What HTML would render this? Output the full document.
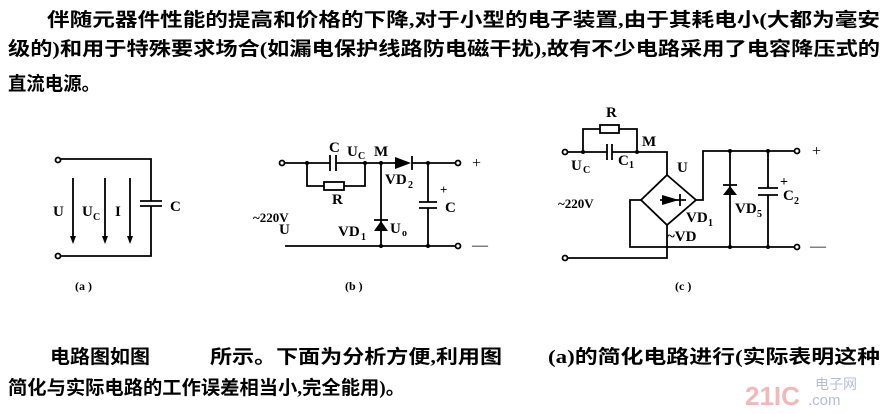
<!DOCTYPE html>
<html><head><meta charset="utf-8"><style>
html,body{margin:0;padding:0;background:#fff;}
svg{display:block;}
.cn{font-family:"Liberation Serif","Noto Sans CJK SC",sans-serif;font-weight:700;font-size:19px;fill:#000;}
.lb{font-family:"Liberation Serif",serif;font-weight:700;font-size:15px;fill:#000;}
.sm{font-family:"Liberation Serif",serif;font-weight:700;font-size:10px;fill:#000;}
</style></head><body>
<svg width="885" height="414" viewBox="0 0 885 414" xmlns="http://www.w3.org/2000/svg">
<g class="cn">
<text x="47" y="26" textLength="833" lengthAdjust="spacingAndGlyphs">伴随元器件性能的提高和价格的下降,对于小型的电子装置,由于其耗电小(大都为毫安</text>
<text x="8" y="55" textLength="872" lengthAdjust="spacingAndGlyphs">级的)和用于特殊要求场合(如漏电保护线路防电磁干扰),故有不少电路采用了电容降压式的</text>
<text x="8" y="90" textLength="92" lengthAdjust="spacingAndGlyphs">直流电源。</text>
<text x="50" y="363" textLength="100" lengthAdjust="spacingAndGlyphs">电路图如图</text>
<text x="210" y="363" textLength="292" lengthAdjust="spacingAndGlyphs">所示。下面为分析方便,利用图</text>
<text x="548" y="363" textLength="332" lengthAdjust="spacingAndGlyphs">(a)的简化电路进行(实际表明这种</text>
<text x="8" y="394" textLength="397" lengthAdjust="spacingAndGlyphs">简化与实际电路的工作误差相当小,完全能用)。</text>
</g>
<text x="745" y="405" font-family="Liberation Sans,sans-serif" font-weight="700" font-size="26" fill="#f2b8b8">21IC</text>
<text x="815" y="389" font-family="Liberation Sans,'Noto Sans CJK SC',sans-serif" font-size="14" fill="#b8bcd8">电子网</text>
<text x="808" y="405" font-family="Liberation Sans,sans-serif" font-size="15" fill="#b8bcd8">.com</text>

<g stroke="#000" stroke-width="1.8" fill="none">
<circle cx="58" cy="160" r="2.5" fill="#fff"/>
<circle cx="58" cy="256" r="2.5" fill="#fff"/>
<polyline points="61,159 151,159 151,201"/>
<polyline points="61,256 151,256 151,206"/>
<line x1="140" y1="201" x2="162" y2="201"/>
<line x1="140" y1="206" x2="162" y2="206"/>
<line x1="73" y1="178" x2="73" y2="238"/>
<line x1="105" y1="178" x2="105" y2="238"/>
<line x1="130" y1="178" x2="130" y2="238"/>
<circle cx="282" cy="163" r="2.5" fill="#fff"/>
<circle cx="458" cy="163" r="2.5" fill="#fff"/>
<circle cx="458" cy="246" r="2.5" fill="#fff"/>
<polyline points="285,163 330,163"/>
<line x1="330" y1="155" x2="330" y2="171"/>
<line x1="336" y1="155" x2="336" y2="171"/>
<polyline points="336,163 395,163"/>
<line x1="412" y1="156" x2="412" y2="170"/>
<polyline points="412,163 455,163"/>
<polyline points="307,163 307,186 324,186"/>
<rect x="324" y="182" width="20" height="8"/>
<polyline points="344,186 365,186 365,163"/>
<line x1="381" y1="163" x2="381" y2="246"/>
<line x1="374" y1="220" x2="388" y2="220"/>
<line x1="285" y1="246" x2="455" y2="246"/>
<polyline points="428,163 428,202"/>
<line x1="419" y1="202" x2="437" y2="202"/>
<line x1="419" y1="208" x2="437" y2="208"/>
<polyline points="428,208 428,246"/>
<circle cx="565" cy="152" r="2.5" fill="#fff"/>
<circle cx="565" cy="258" r="2.5" fill="#fff"/>
<circle cx="797" cy="151" r="2.5" fill="#fff"/>
<circle cx="797" cy="247" r="2.5" fill="#fff"/>
<polyline points="568,152 607,152"/>
<line x1="607" y1="144" x2="607" y2="160"/>
<line x1="612" y1="144" x2="612" y2="160"/>
<polyline points="612,152 667,152 667,175"/>
<polyline points="583,152 583,129 600,129"/>
<rect x="600" y="125" width="19" height="8"/>
<polyline points="619,129 637,129 637,152"/>
<polygon points="667,175 696,200 667,225 641,200"/>
<line x1="660" y1="200" x2="686" y2="200"/>
<line x1="680" y1="194" x2="680" y2="206"/>
<polyline points="641,200 630,200 630,247 794,247"/>
<polyline points="667,225 667,258 568,258"/>
<polyline points="696,200 703,200 703,151 794,151"/>
<line x1="730" y1="151" x2="730" y2="247"/>
<line x1="723" y1="185" x2="737" y2="185"/>
<line x1="768" y1="151" x2="768" y2="188"/>
<line x1="758" y1="188" x2="778" y2="188"/>
<line x1="758" y1="195" x2="778" y2="195"/>
<line x1="768" y1="195" x2="768" y2="247"/>
</g>
<g fill="#000">
<polygon points="70,236 76,236 73,244"/>
<polygon points="102,236 108,236 105,244"/>
<polygon points="127,236 133,236 130,244"/>
<polygon points="395,157 395,169 411,163"/>
<polygon points="374,231 388,231 381,221"/>
<polygon points="723,195 737,195 730,186"/>
<polygon points="662,195 662,205 679,200"/>
<circle cx="307" cy="163" r="2"/><circle cx="365" cy="163" r="2"/><circle cx="381" cy="163" r="2"/>
<circle cx="428" cy="163" r="2"/><circle cx="381" cy="246" r="2"/><circle cx="428" cy="246" r="2"/>
<circle cx="583" cy="152" r="2"/><circle cx="637" cy="152" r="2"/>
<circle cx="730" cy="151" r="2"/><circle cx="768" cy="151" r="2"/>
<circle cx="730" cy="247" r="2"/><circle cx="768" cy="247" r="2"/>
</g>
<g class="lb">
<text x="53" y="216">U</text><text x="82" y="216">U</text><text x="93" y="220" class="sm">C</text>
<text x="115" y="216">I</text><text x="170" y="211">C</text>
<text x="75" y="290" font-size="12">(a )</text>
<text x="329" y="152">C</text><text x="347" y="156">U</text><text x="358" y="159" class="sm">C</text>
<text x="374" y="156">M</text><text x="385" y="184">VD</text><text x="408" y="188" class="sm">2</text>
<text x="332" y="204">R</text>
<text x="253" y="222" font-size="13">~220V</text><text x="279" y="234">U</text>
<text x="338" y="236">VD</text><text x="361" y="240" class="sm">1</text>
<text x="390" y="233">U</text><text x="402" y="236" class="sm">o</text>
<text x="440" y="194" font-size="13">+</text><text x="445" y="212">C</text>
<text x="472" y="168" font-size="16" font-weight="400">+</text>
<text x="472" y="250" font-size="16" font-weight="400">—</text>
<text x="345" y="290" font-size="12">(b )</text>
<text x="606" y="117">R</text><text x="642" y="146">M</text>
<text x="571" y="170">U</text><text x="583" y="173" class="sm">C</text>
<text x="618" y="165">C</text><text x="629" y="168" class="sm">1</text>
<text x="677" y="172">U</text>
<text x="558" y="208" font-size="13">~220V</text>
<text x="686" y="222">VD</text><text x="708" y="226" class="sm">1</text>
<text x="667" y="241">~VD</text>
<text x="735" y="213">VD</text><text x="757" y="217" class="sm">5</text>
<text x="780" y="186" font-size="14">+</text>
<text x="783" y="200">C</text><text x="794" y="204" class="sm">2</text>
<text x="812" y="156" font-size="16" font-weight="400">+</text>
<text x="810" y="251" font-size="16" font-weight="400">—</text>
<text x="675" y="290" font-size="12">(c )</text>
</g>
</svg>
</body></html>
